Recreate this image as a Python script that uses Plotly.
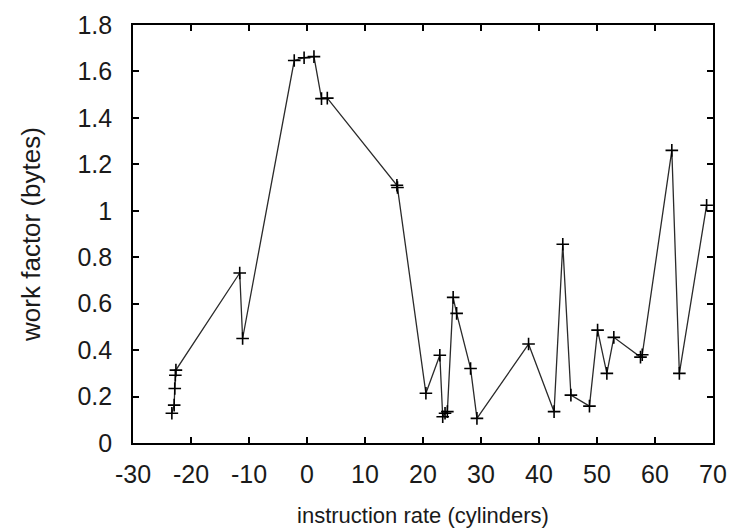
import plotly.graph_objects as go

x_vals = [-23.3, -22.9, -22.8, -22.7, -22.6, -11.6, -11.1,
          -2.2, -0.5, 1.2, 2.5, 3.5, 15.5, 15.6,
          20.5, 22.9, 23.4, 23.8, 24.2, 25.2, 25.8, 28.2, 29.3,
          38.2, 42.6, 44.1, 45.5, 48.7, 50.1, 51.7, 52.9, 57.5, 57.8,
          62.9, 64.2, 68.9]
y_vals = [0.128, 0.163, 0.235, 0.292, 0.314, 0.732, 0.45,
          1.647, 1.659, 1.664, 1.483, 1.485, 1.11, 1.10,
          0.214, 0.378, 0.113, 0.128, 0.135, 0.627, 0.558, 0.321, 0.106,
          0.426, 0.135, 0.856, 0.206, 0.159, 0.486, 0.30, 0.455, 0.37, 0.38,
          1.26, 0.30, 1.024]

x_ticks = [-30, -20, -10, 0, 10, 20, 30, 40, 50, 60, 70]
y_ticks = [0, 0.2, 0.4, 0.6, 0.8, 1, 1.2, 1.4, 1.6, 1.8]

FONT = "Liberation Sans, Arial, sans-serif"

fig = go.Figure()
fig.add_trace(go.Scatter(
    x=x_vals, y=y_vals, mode="lines+markers",
    line=dict(color="#2a2a2a", width=1.3),
    marker=dict(symbol="cross-thin", size=9, line=dict(color="#000000", width=1.6)),
    showlegend=False,
))

axis_common = dict(
    showgrid=False, zeroline=False, showline=True, linecolor="#000000", linewidth=1.6,
    mirror="ticks", ticks="inside", ticklen=6, tickwidth=1.6, tickcolor="#000000",
    tickfont=dict(family=FONT, size=25, color="#1a1a1a"),
)
fig.update_xaxes(range=[-30, 70], tickvals=x_ticks, ticktext=[str(v) for v in x_ticks],
                 ticklabelstandoff=8,
                 title=dict(text="instruction rate (cylinders)", standoff=21,
                            font=dict(family=FONT, size=22, color="#1a1a1a")),
                 **axis_common)
fig.update_yaxes(range=[0, 1.8], tickvals=y_ticks, ticktext=[f"{v:g}" for v in y_ticks],
                 ticklabelstandoff=14,
                 title=dict(text="work factor (bytes)", standoff=29,
                            font=dict(family=FONT, size=26, color="#1a1a1a")),
                 **axis_common)
fig.update_layout(
    width=736, height=528,
    margin=dict(l=133, r=23, t=25, b=85, autoexpand=False),
    paper_bgcolor="white", plot_bgcolor="white",
)
fig.write_html("out.html", config={"displayModeBar": False},
               post_script="document.body.style.margin='0px';")
